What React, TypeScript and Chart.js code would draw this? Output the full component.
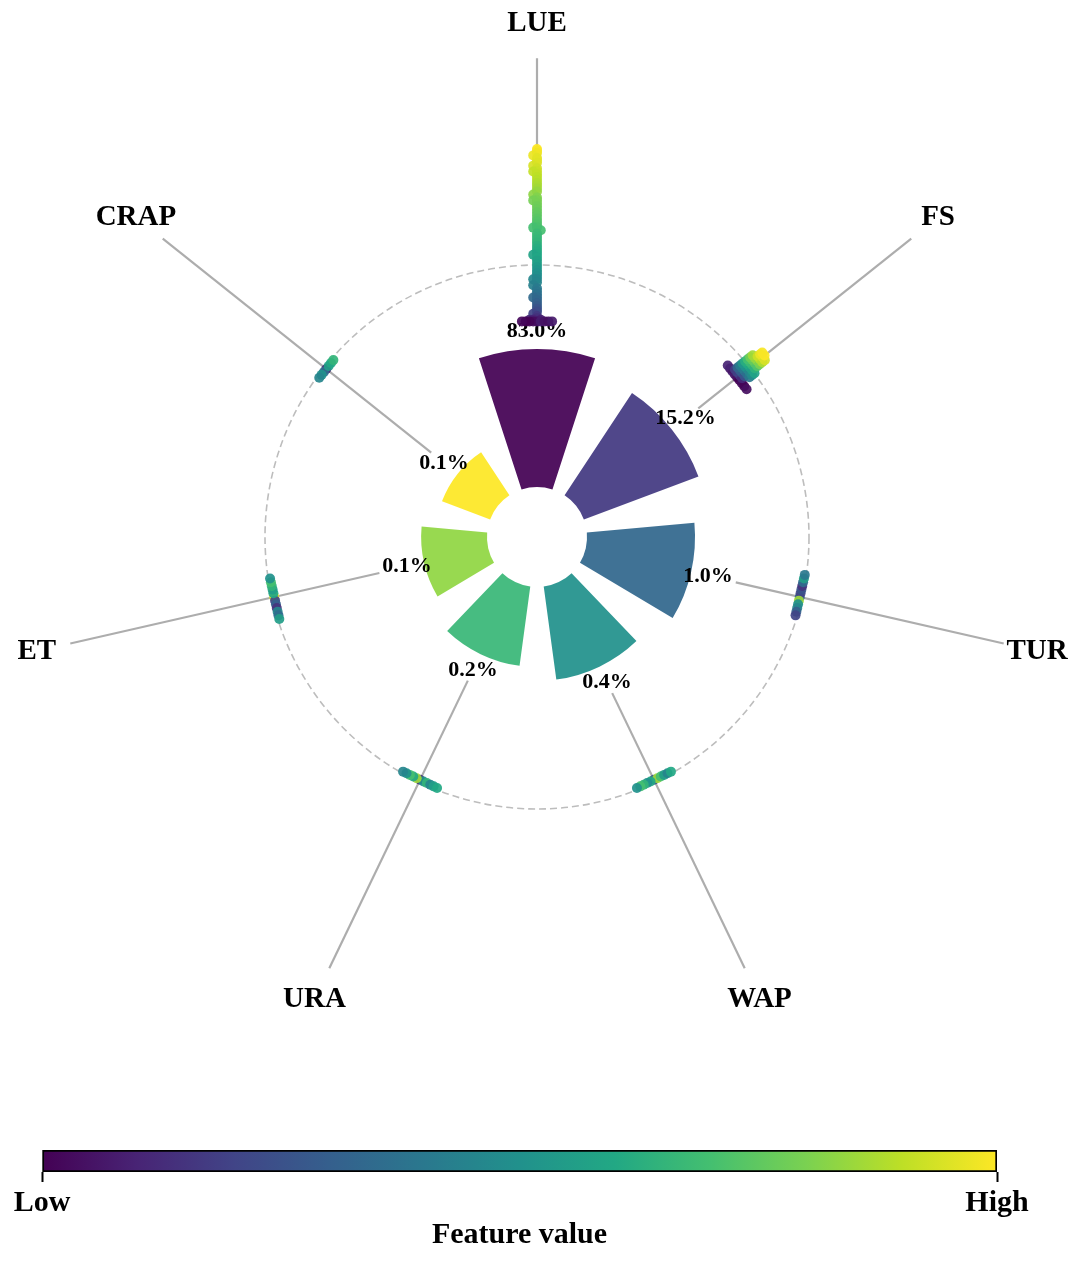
import { useEffect, useRef } from "react";
import { Chart, registerables } from "chart.js";

Chart.register(...registerables);

const features = ["LUE", "FS", "TUR", "WAP", "URA", "ET", "CRAP"];
// share of mean |SHAP| per feature (%)
const importance = [83.0, 15.2, 1.0, 0.4, 0.2, 0.1, 0.1];
// outer end of each bar on the radial scale (bars start at HOLE)
const barScore = [6.91, 6.34, 5.81, 5.29, 4.78, 4.26, 3.73];

// [shap value, normalised feature value] for every sample, per feature
const shapLUE: [number, number][] = [
  [0.44, 1.0], [0.433, 0.99], [0.425, 0.98], [0.416, 0.97], [0.406, 0.96], [0.398, 0.96],
  [0.389, 0.95], [0.378, 0.94], [0.368, 0.93], [0.357, 0.92], [0.356, 0.91], [0.346, 0.91],
  [0.336, 0.9], [0.325, 0.89], [0.314, 0.88], [0.304, 0.87], [0.293, 0.86], [0.282, 0.84],
  [0.271, 0.83], [0.26, 0.81], [0.25, 0.8], [0.249, 0.79], [0.238, 0.79], [0.227, 0.78],
  [0.216, 0.77], [0.205, 0.76], [0.194, 0.75], [0.182, 0.74], [0.171, 0.73], [0.16, 0.72],
  [0.149, 0.71], [0.148, 0.7], [0.138, 0.7], [0.126, 0.68], [0.115, 0.67], [0.104, 0.66],
  [0.093, 0.65], [0.081, 0.63], [0.07, 0.62], [0.059, 0.61], [0.048, 0.6], [0.047, 0.58],
  [0.036, 0.59], [0.025, 0.57], [0.013, 0.56], [0.002, 0.54], [-0.01, 0.52], [-0.021, 0.5],
  [-0.032, 0.49], [-0.043, 0.47], [-0.044, 0.46], [-0.055, 0.45], [-0.066, 0.43], [-0.077, 0.41],
  [-0.088, 0.39], [-0.099, 0.37], [-0.11, 0.35], [-0.111, 0.34], [-0.121, 0.33], [-0.132, 0.31],
  [-0.143, 0.29], [-0.153, 0.26], [-0.163, 0.23], [-0.172, 0.2], [-0.18, 0.17], [-0.188, 0.14],
  [-0.194, 0.1], [-0.194, 0.09], [-0.194, 0.11],
  [-0.2, 0.06], [-0.2, 0.03], [-0.2, 0.08], [-0.2, 0.01], [-0.2, 0.05], [-0.2, 0.0],
  [-0.2, 0.04], [-0.2, 0.02], [-0.2, 0.07],
];
const shapFS: [number, number][] = [
  [-0.05, 0.02], [-0.05, 0.05], [-0.05, 0.0], [-0.05, 0.08], [-0.05, 0.03], [-0.05, 0.06],
  [-0.05, 0.01], [-0.05, 0.1], [-0.05, 0.04],
  [-0.038, 0.15], [-0.038, 0.2], [-0.038, 0.12], [-0.038, 0.18],
  [-0.026, 0.28], [-0.026, 0.3], [-0.026, 0.25], [-0.026, 0.33],
  [-0.014, 0.38], [-0.014, 0.4], [-0.014, 0.36], [-0.014, 0.42], [-0.014, 0.4],
  [-0.002, 0.47], [-0.002, 0.5], [-0.002, 0.45], [-0.002, 0.52], [-0.002, 0.48],
  [0.01, 0.57], [0.01, 0.6], [0.01, 0.55], [0.01, 0.62], [0.01, 0.58],
  [0.022, 0.66], [0.022, 0.68], [0.022, 0.64], [0.022, 0.7],
  [0.034, 0.74], [0.034, 0.76], [0.034, 0.72], [0.034, 0.78],
  [0.046, 0.82], [0.046, 0.84], [0.046, 0.8], [0.046, 0.86],
  [0.058, 0.9], [0.058, 0.92], [0.058, 0.88],
  [0.07, 0.95], [0.07, 0.97], [0.07, 0.94],
  [0.08, 1.0], [0.08, 0.99],
];
const shapTUR: [number, number][] = [
  [0.0, 0.3], [0.0, 0.2], [0.0, 0.85], [0.0, 0.25], [0.0, 0.5], [0.0, 0.15],
  [0.0, 0.45], [0.0, 0.35], [0.0, 0.3], [0.0, 0.55], [0.0, 0.2], [0.0, 0.4],
];
const shapWAP: [number, number][] = [
  [0.0, 0.25], [0.0, 0.85], [0.0, 0.6], [0.0, 0.7], [0.0, 0.5], [0.0, 0.55],
  [0.0, 0.65], [0.0, 0.45], [0.0, 0.7], [0.0, 0.6], [0.0, 0.5],
];
const shapURA: [number, number][] = [
  [0.0, 0.15], [0.0, 0.5], [0.0, 0.85], [0.0, 0.65], [0.0, 0.6], [0.0, 0.45],
  [0.0, 0.7], [0.0, 0.55], [0.0, 0.5], [0.0, 0.6], [0.0, 0.45],
];
const shapET: [number, number][] = [
  [0.0, 0.95], [0.0, 0.2], [0.0, 0.6], [0.0, 0.3], [0.0, 0.55], [0.0, 0.15],
  [0.0, 0.65], [0.0, 0.45], [0.0, 0.7], [0.0, 0.35], [0.0, 0.5], [0.0, 0.55],
];
const shapCRAP: [number, number][] = [
  [0.0, 0.1], [0.0, 0.35], [0.0, 0.55], [0.0, 0.5], [0.0, 0.6], [0.0, 0.45], [0.0, 0.65],
];
const shapSets = [shapLUE, shapFS, shapTUR, shapWAP, shapURA, shapET, shapCRAP];

const cbarTicks = [0, 1];
const cbarTickLabels = ["Low", "High"];

// radial layout (scale units, 1 unit = 27.2px)
const R_MAX = 20;
const HOLE = 1.84;
const RING = 10; // shap = 0
const SHAP_GAIN = 10;
const PCT_GAP = 0.64;
const SPOKE_END = 17.6;
const LABEL_R = 18.86;
const BAR_FRACTION = 0.7;
const SWARM_BIN = 0.012;
const SWARM_STEP = 0.14;

const FONT = '"Liberation Serif", "Times New Roman", serif';

const VIRIDIS = [
  "#440154", "#482475", "#414487", "#355f8d", "#2a788e", "#21918c",
  "#22a884", "#44bf70", "#7ad151", "#bddf26", "#fde725",
];

const hex = (h: string) => [1, 3, 5].map((k) => parseInt(h.slice(k, k + 2), 16));

function viridis(t: number, alpha = 1) {
  const p = Math.max(0, Math.min(1, t)) * (VIRIDIS.length - 1);
  const i = Math.min(VIRIDIS.length - 2, Math.floor(p));
  const f = p - i;
  const a = hex(VIRIDIS[i]);
  const b = hex(VIRIDIS[i + 1]);
  const c = a.map((v, k) => Math.round(v + (b[k] - v) * f));
  return `rgba(${c[0]},${c[1]},${c[2]},${alpha})`;
}

// deterministic beeswarm: points in the same shap bin are stacked sideways
function swarm(vals: number[]) {
  const layers = new Map<number, number>();
  return vals.map((s) => {
    const q = Math.round(s / SWARM_BIN);
    const k = layers.get(q) ?? 0;
    layers.set(q, k + 1);
    return Math.ceil(k / 2) * (k % 2 ? 1 : -1) * SWARM_STEP;
  });
}

const narrowBars = {
  id: "narrowBars",
  afterDatasetsUpdate(chart: any) {
    const scale = chart.scales.r;
    const inner = scale.getDistanceFromCenterForValue(HOLE);
    chart.getDatasetMeta(0).data.forEach((arc: any) => {
      const mid = (arc.startAngle + arc.endAngle) / 2;
      const half = ((arc.endAngle - arc.startAngle) / 2) * BAR_FRACTION;
      arc.startAngle = mid - half;
      arc.endAngle = mid + half;
      arc.innerRadius = inner;
    });
  },
};

const spokesAndLabels = {
  id: "spokesAndLabels",
  afterDatasetsDraw(chart: any) {
    const scale = chart.scales.r;
    const ctx = chart.ctx;
    ctx.save();
    chart.getDatasetMeta(0).data.forEach((arc: any, i: number) => {
      const a = (arc.startAngle + arc.endAngle) / 2;
      const ux = Math.cos(a);
      const uy = Math.sin(a);
      const at = (v: number) => {
        const d = scale.getDistanceFromCenterForValue(v);
        return { x: scale.xCenter + ux * d, y: scale.yCenter + uy * d };
      };

      const txt = `${importance[i].toFixed(1)}%`;
      ctx.font = `bold 22px ${FONT}`;
      const hw = ctx.measureText(txt).width / 2 + 1;
      const hh = 9;
      const exit = Math.min(
        Math.abs(ux) > 1e-6 ? hw / Math.abs(ux) : Infinity,
        Math.abs(uy) > 1e-6 ? hh / Math.abs(uy) : Infinity
      );
      const d0 = scale.getDistanceFromCenterForValue(barScore[i] + PCT_GAP) + exit + 2;
      const d1 = scale.getDistanceFromCenterForValue(SPOKE_END);
      ctx.strokeStyle = "#adadad";
      ctx.lineWidth = 2.2;
      ctx.beginPath();
      ctx.moveTo(scale.xCenter + ux * d0, scale.yCenter + uy * d0);
      ctx.lineTo(scale.xCenter + ux * d1, scale.yCenter + uy * d1);
      ctx.stroke();

      ctx.fillStyle = "#000";
      ctx.textAlign = "center";
      ctx.textBaseline = "middle";
      const p = at(barScore[i] + PCT_GAP);
      ctx.fillText(txt, p.x, p.y);

      ctx.font = `bold 29px ${FONT}`;
      const q = at(LABEL_R);
      ctx.fillText(features[i], q.x, q.y);
    });
    ctx.restore();
  },
};

// Low / High under the colorbar ticks (the axis box is only 22px tall)
const cbarLabels = {
  id: "cbarLabels",
  afterDraw(chart: any) {
    const x = chart.scales.x;
    const ctx = chart.ctx;
    ctx.save();
    ctx.font = `bold 30px ${FONT}`;
    ctx.fillStyle = "#000";
    ctx.textAlign = "center";
    ctx.textBaseline = "middle";
    cbarTicks.forEach((v, i) => {
      ctx.fillText(cbarTickLabels[i], x.getPixelForValue(v), chart.chartArea.bottom + 10 + 3 + 18);
    });
    ctx.restore();
  },
};

export default function App() {
  const polarRef = useRef<HTMLCanvasElement | null>(null);
  const dotsRef = useRef<HTMLCanvasElement | null>(null);
  const cbarRef = useRef<HTMLCanvasElement | null>(null);

  useEffect(() => {
    if (!polarRef.current || !dotsRef.current || !cbarRef.current) return;

    const polar = new Chart(polarRef.current, {
      type: "polarArea",
      data: {
        labels: features,
        datasets: [
          {
            data: barScore,
            backgroundColor: features.map((_, i) => viridis(i / (features.length - 1), 0.93)),
            borderWidth: 0,
          },
        ],
      },
      options: {
        responsive: false,
        animation: false,
        events: [],
        layout: { padding: 0 },
        plugins: { legend: { display: false }, tooltip: { enabled: false } },
        scales: {
          r: {
            min: 0,
            max: R_MAX,
            startAngle: -180 / features.length,
            afterBuildTicks: (s: any) => {
              s.ticks = [{ value: 0 }, { value: RING }];
            },
            ticks: { display: false },
            grid: { circular: true, color: "#bdbdbd", lineWidth: 1.6 },
            border: { dash: [7, 4] },
            angleLines: { display: false },
            pointLabels: { display: false },
          },
        },
      } as any,
      plugins: [narrowBars, spokesAndLabels],
    });

    const dotSets = shapSets.map((pts, i) => {
      const th = Math.PI / 2 - (i * 2 * Math.PI) / features.length;
      const offs = swarm(pts.map((p) => p[0]));
      return {
        data: pts.map(([s], k) => {
          const r = RING + s * SHAP_GAIN;
          const o = offs[k];
          return {
            x: r * Math.cos(th) - o * Math.sin(th),
            y: r * Math.sin(th) + o * Math.cos(th),
          };
        }),
        pointBackgroundColor: pts.map((p) => viridis(p[1], 0.92)),
        pointBorderWidth: 0,
        pointRadius: 5,
        showLine: false,
      };
    });

    const dots = new Chart(dotsRef.current, {
      type: "scatter",
      data: { datasets: dotSets },
      options: {
        responsive: false,
        animation: false,
        events: [],
        layout: { padding: 0 },
        plugins: { legend: { display: false }, tooltip: { enabled: false } },
        scales: {
          x: { display: false, min: -R_MAX, max: R_MAX },
          y: { display: false, min: -R_MAX, max: R_MAX },
        },
      } as any,
    });

    const cbar = new Chart(cbarRef.current, {
      type: "bar",
      data: {
        labels: [""],
        datasets: [
          {
            data: [1],
            backgroundColor: (c: any) => {
              const area = c.chart.chartArea;
              if (!area) return VIRIDIS[0];
              const g = c.chart.ctx.createLinearGradient(area.left, 0, area.right, 0);
              VIRIDIS.forEach((col, k) => g.addColorStop(k / (VIRIDIS.length - 1), col));
              return g;
            },
            borderColor: "#000",
            borderWidth: 2,
            borderSkipped: false,
            barPercentage: 1,
            categoryPercentage: 1,
          },
        ],
      },
      options: {
        indexAxis: "y",
        responsive: false,
        animation: false,
        events: [],
        layout: { padding: { left: 42, right: 83, top: 10, bottom: 69 } },
        plugins: { legend: { display: false }, tooltip: { enabled: false } },
        scales: {
          x: {
            type: "linear",
            min: 0,
            max: 1,
            afterBuildTicks: (s: any) => {
              s.ticks = cbarTicks.map((v) => ({ value: v }));
            },
            ticks: { display: false },
            grid: { drawOnChartArea: false, tickLength: 10, tickColor: "#000", tickWidth: 2 },
            border: { display: false },
            title: {
              display: true,
              text: "Feature value",
              font: { family: FONT, size: 30, weight: "bold" },
              color: "#000",
              padding: { top: 35, bottom: -59 },
            },
          },
          y: { display: false },
        },
      } as any,
      plugins: [cbarLabels],
    });

    return () => {
      polar.destroy();
      dots.destroy();
      cbar.destroy();
    };
  }, []);

  return (
    <div
      style={{
        position: "absolute",
        left: 0,
        top: 0,
        width: 1080,
        height: 1263,
        overflow: "hidden",
        background: "#fff",
      }}
    >
      <canvas
        ref={polarRef}
        width={1088}
        height={1088}
        style={{ position: "absolute", left: -7, top: -7, width: 1088, height: 1088 }}
      />
      <canvas
        ref={dotsRef}
        width={1088}
        height={1088}
        style={{ position: "absolute", left: -7, top: -7, width: 1088, height: 1088 }}
      />
      <canvas
        ref={cbarRef}
        width={1080}
        height={123}
        style={{ position: "absolute", left: 0, top: 1140, width: 1080, height: 123 }}
      />
    </div>
  );
}
